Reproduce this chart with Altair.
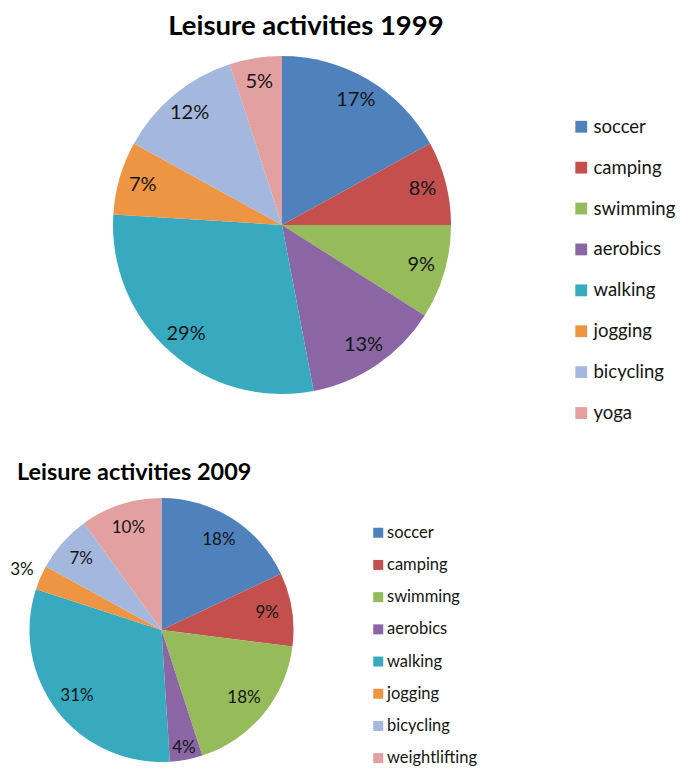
import altair as alt
import pandas as pd

cats_1999 = ["soccer", "camping", "swimming", "aerobics", "walking", "jogging", "bicycling", "yoga"]
vals_1999 = [17, 8, 9, 13, 29, 7, 12, 5]
cats_2009 = ["soccer", "camping", "swimming", "aerobics", "walking", "jogging", "bicycling", "weightlifting"]
vals_2009 = [18, 9, 18, 4, 31, 3, 7, 10]
colors = ["#4F81BD", "#C4504E", "#95BB5A", "#8B66A4", "#37AAC0", "#EE9543", "#A4B7DC", "#E2A0A1"]
titles = ["Leisure activities 1999", "Leisure activities 2009"]

FONT = "Lato"

df1 = pd.DataFrame({"cat": cats_1999, "val": vals_1999, "idx": list(range(len(cats_1999)))})
df2 = pd.DataFrame({"cat": cats_2009, "val": vals_2009, "idx": list(range(len(cats_2009)))})


def pie(df, cats, cx, cy, r, label_layers, fs, legend):
    arc = alt.Chart(df).mark_arc(radius=r).encode(
        theta=alt.Theta("val:Q", stack=True),
        order=alt.Order("idx:Q"),
        color=alt.Color("cat:N", scale=alt.Scale(domain=cats, range=colors), legend=legend),
        x=alt.value(cx),
        y=alt.value(cy),
    )
    layers = [arc]
    for cond, lr in label_layers:
        t = alt.Chart(df).transform_calculate(
            lbl=f"({cond}) ? datum.val + '%' : ''"
        ).mark_text(radius=lr, font=FONT, fontSize=fs, color="#151515").encode(
            theta=alt.Theta("val:Q", stack=True),
            order=alt.Order("idx:Q"),
            text="lbl:N",
            x=alt.value(cx),
            y=alt.value(cy),
        )
        layers.append(t)
    return alt.layer(*layers)


leg1 = alt.Legend(orient="none", legendX=564, legendY=109.5, title=None, symbolType="square",
                  symbolSize=140, symbolStrokeWidth=0, labelFont=FONT, labelFontSize=18.5,
                  labelColor="#151515", labelOffset=3, rowPadding=21.9, padding=0)
leg2 = alt.Legend(orient="none", legendX=362, legendY=516.5, title=None, symbolType="square",
                  symbolSize=100, symbolStrokeWidth=0, labelFont=FONT, labelFontSize=16.5,
                  labelColor="#151515", labelOffset=0.5, rowPadding=15.2, padding=0)

pie1 = pie(df1, cats_1999, 274, 217, 169, [("true", 145)], 20, leg1)
pie2 = pie(df2, cats_2009, 153.5, 622, 132,
           [("datum.val > 4", 107), ("datum.val == 4", 120), ("datum.val < 4", 152)], 17, leg2)

t1 = alt.Chart(pd.DataFrame({"t": [titles[0]]})).mark_text(
    font=FONT, fontWeight="bold", fontSize=27.5, align="center", baseline="alphabetic", color="#000"
).encode(x=alt.value(298), y=alt.value(27), text="t:N")
t2 = alt.Chart(pd.DataFrame({"t": [titles[1]]})).mark_text(
    font=FONT, fontWeight="bold", fontSize=23.4, align="left", baseline="alphabetic", color="#000"
).encode(x=alt.value(9), y=alt.value(472), text="t:N")

chart = alt.layer(pie1, pie2, t1, t2).resolve_scale(color="independent").properties(
    width=673, height=762, padding=0, autosize="none"
).configure_view(stroke=None)

chart.save("out.html", embed_options={"renderer": "svg", "actions": False})
